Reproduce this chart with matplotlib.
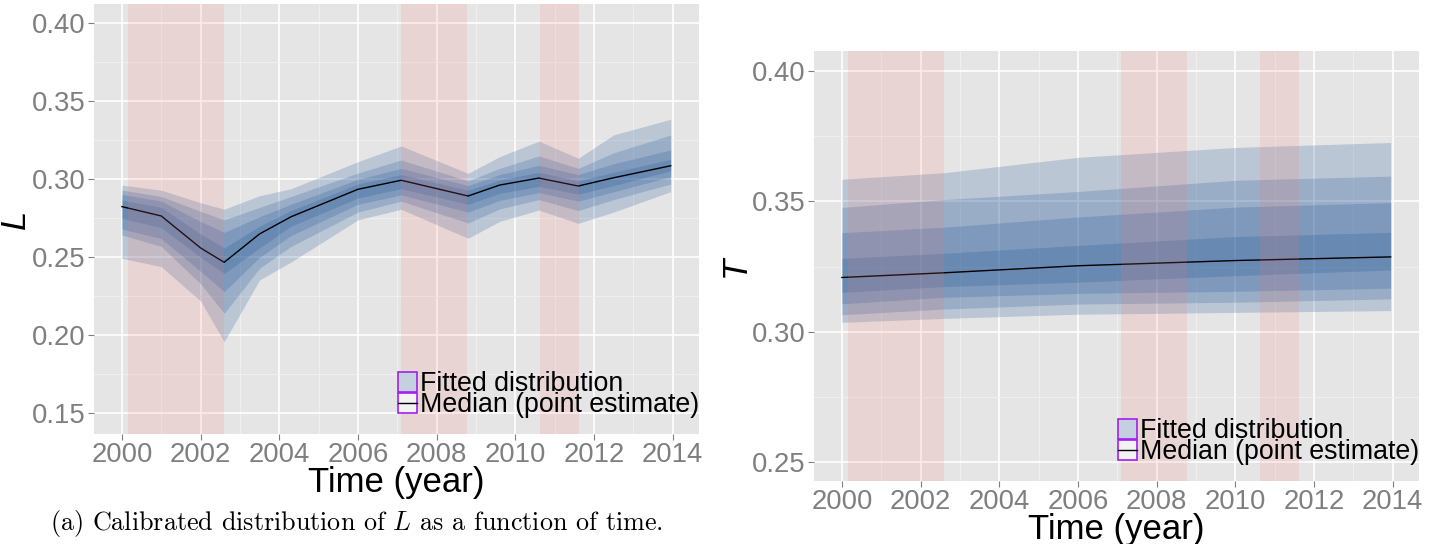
import matplotlib
matplotlib.use("Agg")
import matplotlib.pyplot as plt
from matplotlib.lines import Line2D
from matplotlib.patches import Patch
from matplotlib.ticker import MultipleLocator

plt.rcParams["font.family"] = ["Liberation Sans", "DejaVu Sans"]
plt.rcParams["mathtext.fontset"] = "cm"

# ---- data ----
recessions = [(2000.16, 2002.59), (2007.10, 2008.78), (2010.62, 2011.63)]

years_L = [2000.0, 2001.0, 2002.0, 2002.6, 2003.5, 2004.3, 2006.0, 2007.1,
           2008.8, 2009.6, 2010.6, 2011.6, 2012.5, 2013.95]
median_L = [0.2825, 0.2765, 0.2560, 0.2468, 0.2650, 0.2760, 0.2936, 0.2994,
            0.2893, 0.2963, 0.3008, 0.2957, 0.3010, 0.3087]
hi1_L = [0.2963, 0.2930, 0.2850, 0.2808, 0.2895, 0.2940, 0.3113, 0.3214,
         0.3038, 0.3145, 0.3245, 0.3135, 0.3285, 0.3385]
hi2_L = [0.2931, 0.2890, 0.2795, 0.2740, 0.2820, 0.2890, 0.3040, 0.3124,
         0.2990, 0.3070, 0.3150, 0.3070, 0.3170, 0.3284]
hi3_L = [0.2904, 0.2860, 0.2730, 0.2660, 0.2760, 0.2840, 0.3000, 0.3070,
         0.2960, 0.3030, 0.3090, 0.3030, 0.3100, 0.3188]
hi4_L = [0.2867, 0.2820, 0.2650, 0.2560, 0.2700, 0.2800, 0.2970, 0.3030,
         0.2930, 0.2995, 0.3045, 0.2990, 0.3045, 0.3128]
lo4_L = [0.2750, 0.2690, 0.2500, 0.2397, 0.2560, 0.2700, 0.2880, 0.2940,
         0.2840, 0.2910, 0.2955, 0.2905, 0.2960, 0.3055]
lo3_L = [0.2681, 0.2620, 0.2410, 0.2280, 0.2500, 0.2640, 0.2840, 0.2900,
         0.2790, 0.2865, 0.2915, 0.2860, 0.2920, 0.3017]
lo2_L = [0.2643, 0.2570, 0.2330, 0.2141, 0.2430, 0.2570, 0.2790, 0.2860,
         0.2720, 0.2810, 0.2870, 0.2800, 0.2870, 0.2970]
lo1_L = [0.2494, 0.2440, 0.2220, 0.1959, 0.2355, 0.2470, 0.2740, 0.2808,
         0.2622, 0.2730, 0.2803, 0.2718, 0.2790, 0.2921]

years_T = [2000.0, 2002.6, 2006.0, 2010.0, 2013.95]
median_T = [0.3208, 0.3226, 0.3253, 0.3273, 0.3287]
hi1_T = [0.3585, 0.3610, 0.3669, 0.3707, 0.3726]
hi2_T = [0.3477, 0.3507, 0.3538, 0.3581, 0.3597]
hi3_T = [0.3380, 0.3401, 0.3440, 0.3478, 0.3495]
hi4_T = [0.3281, 0.3301, 0.3331, 0.3365, 0.3381]
lo4_T = [0.3151, 0.3173, 0.3190, 0.3215, 0.3237]
lo3_T = [0.3107, 0.3132, 0.3147, 0.3155, 0.3167]
lo2_T = [0.3065, 0.3087, 0.3106, 0.3113, 0.3126]
lo1_T = [0.3036, 0.3051, 0.3067, 0.3074, 0.3081]

legend_labels = ["Fitted distribution", "Median (point estimate)"]

band_color = "#134A90"
grey_txt = "#7F7F7F"


def draw_panel(ax, years, lows, highs, median, ylim, ylabel):
    ax.set_facecolor("#E5E5E5")
    for lo, hi in zip(lows, highs):
        ax.fill_between(years, lo, hi, color=band_color, alpha=0.2, lw=0)
    ax.plot(years, median, color="black", lw=1.0)
    for start, end in recessions:
        ax.axvspan(start, end, color="#F8766D", alpha=0.15, lw=0, zorder=5)

    ax.set_xlim(1999.29, 2014.67)
    ax.set_ylim(*ylim)
    ax.xaxis.set_major_locator(MultipleLocator(2))
    ax.xaxis.set_minor_locator(MultipleLocator(1))
    ax.yaxis.set_major_locator(MultipleLocator(0.05))
    ax.yaxis.set_minor_locator(MultipleLocator(0.025))
    ax.yaxis.set_major_formatter(lambda v, p: f"{v:.2f}")
    ax.set_axisbelow(True)
    ax.grid(which="major", color="white", lw=1.2)
    ax.grid(which="minor", color="#F2F2F2", lw=0.6)
    for s in ax.spines.values():
        s.set_visible(False)
    ax.tick_params(which="major", length=4, color=grey_txt, labelcolor=grey_txt,
                   labelsize=19.8, pad=2)
    ax.tick_params(which="minor", length=0)

    ax.set_xlabel("Time (year)", fontsize=25, labelpad=-1.5)
    ax.set_ylabel(ylabel, fontsize=25, fontstyle="italic")
    ax.yaxis.set_label_coords(-0.102, 0.5)

    fitted = Patch(facecolor="#C5D0DE", edgecolor="#A020F0", lw=1.2)
    key_bg = Patch(facecolor="#F2F2F2", edgecolor="#A020F0", lw=1.2)
    line = Line2D([], [], color="black", lw=1.0)
    ax.legend([fitted, (key_bg, line)], legend_labels, loc="lower left",
              bbox_to_anchor=(0.502, 0.037), frameon=False, fontsize=19.3,
              handlelength=0.72, handleheight=0.75, handletextpad=0.12,
              labelspacing=-0.2, borderpad=0, borderaxespad=0)


fig = plt.figure(figsize=(14.46, 5.44), dpi=100)
ax1 = fig.add_axes([0.0650, 0.2022, 0.4184, 0.7904])
ax2 = fig.add_axes([0.5629, 0.1158, 0.4184, 0.7904])

draw_panel(ax1, years_L,
           [lo1_L, lo2_L, lo3_L, lo4_L], [hi1_L, hi2_L, hi3_L, hi4_L],
           median_L, (0.1367, 0.4124), "L")
draw_panel(ax2, years_T,
           [lo1_T, lo2_T, lo3_T, lo4_T], [hi1_T, hi2_T, hi3_T, hi4_T],
           median_T, (0.2427, 0.4077), "T")

fig.text(0.2465, 0.038, r"(a) Calibrated distribution of $L$ as a function of time.",
         family="cmr10", fontsize=18.8, ha="center", va="center")

fig.savefig("out.png", dpi=100)
